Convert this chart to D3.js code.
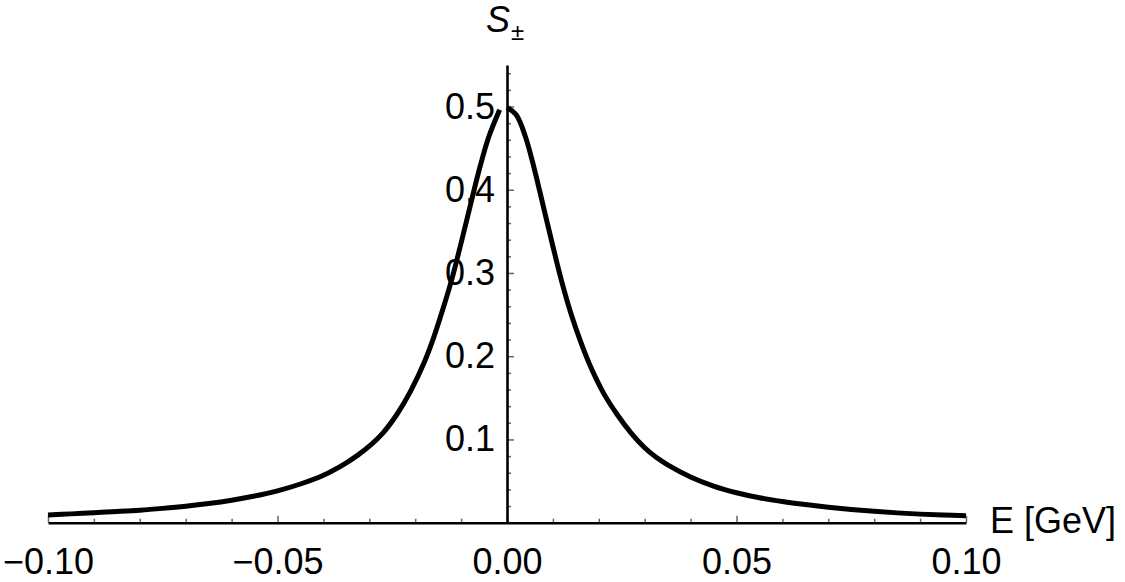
<!DOCTYPE html>
<html>
<head>
<meta charset="utf-8">
<script src="https://cdn.jsdelivr.net/npm/d3@7"></script>
<style>
  html, body { margin: 0; padding: 0; background: #fff; }
  svg { display: block; }
  text { font-family: "Liberation Sans", Arial, Helvetica, sans-serif; fill: #000; }
</style>
</head>
<body>
<svg id="chart" width="1125" height="582"></svg>
<script>
// Curve (E in GeV, S±)
const leftE = [-0.100, -0.095, -0.090, -0.085, -0.080, -0.075, -0.070, -0.065, -0.060, -0.055, -0.050, -0.045, -0.040, -0.035, -0.0325, -0.030, -0.027, -0.024, -0.021, -0.018, -0.016, -0.014, -0.012, -0.010, -0.008, -0.006, -0.004, -0.0016];
const leftS = [0.0092, 0.0106, 0.0120, 0.0134, 0.0150, 0.0172, 0.0198, 0.0230, 0.0270, 0.0320, 0.0383, 0.0465, 0.0570, 0.0720, 0.0812, 0.0920, 0.108, 0.130, 0.158, 0.193, 0.222, 0.256, 0.293, 0.336, 0.381, 0.425, 0.463, 0.496];
const rightE = [0.000, 0.002, 0.004, 0.006, 0.008, 0.010, 0.012, 0.014, 0.016, 0.018, 0.021, 0.024, 0.027, 0.030, 0.0325, 0.035, 0.040, 0.045, 0.050, 0.055, 0.060, 0.065, 0.070, 0.075, 0.080, 0.085, 0.090, 0.095, 0.100];
const rightS = [0.499, 0.490, 0.464, 0.424, 0.378, 0.332, 0.288, 0.250, 0.218, 0.190, 0.156, 0.130, 0.108, 0.090, 0.0785, 0.0695, 0.055, 0.044, 0.036, 0.030, 0.0255, 0.0218, 0.0186, 0.0159, 0.0137, 0.0118, 0.0103, 0.0093, 0.0084];

const xMajor = [-0.10, -0.05, 0.00, 0.05, 0.10];
const xMinor = [-0.09, -0.08, -0.07, -0.06, -0.04, -0.03, -0.02, -0.01, 0.01, 0.02, 0.03, 0.04, 0.06, 0.07, 0.08, 0.09];
const yMajor = [0.1, 0.2, 0.3, 0.4, 0.5];
const yMinor = [0.02, 0.04, 0.06, 0.08, 0.12, 0.14, 0.16, 0.18, 0.22, 0.24, 0.26, 0.28, 0.32, 0.34, 0.36, 0.38, 0.42, 0.44, 0.46, 0.48, 0.52, 0.54];

const xLabel = "E [GeV]";
const yLabelMain = "S";
const yLabelSub = "±";

const svg = d3.select("#chart");
const x = d3.scaleLinear().domain([-0.10, 0.10]).range([48, 966]);
const y0 = 522.7, perUnit = 832.4;
const y = d3.scaleLinear().domain([0, 0.55]).range([y0, y0 - 0.55 * perUnit]);

const tickColor = "#666";
const fontFam = '"Liberation Sans", Arial, Helvetica, sans-serif';

// X axis: minor and major ticks pointing up
const gx = svg.append("g").attr("transform", `translate(0,${y(0)})`);
gx.append("g").call(d3.axisBottom(x).tickValues(xMinor).tickSize(-4).tickFormat(""))
  .call(g => g.select(".domain").remove())
  .call(g => g.selectAll("line").attr("stroke", tickColor).attr("stroke-width", 1.5));
gx.append("g").call(d3.axisBottom(x).tickValues(xMajor).tickSize(-7).tickFormat(""))
  .call(g => g.select(".domain").remove())
  .call(g => g.selectAll("line").attr("stroke", tickColor).attr("stroke-width", 1.5));
gx.append("g").call(d3.axisBottom(x).tickValues(xMajor).tickSizeInner(0).tickSizeOuter(0).tickPadding(26).tickFormat(d3.format(".2f")))
  .call(g => g.select(".domain").attr("stroke", "#000").attr("stroke-width", 2.6))
  .call(g => g.selectAll("text").attr("font-size", 36).attr("fill", "#000").attr("font-family", fontFam));

// Y axis at E = 0
const gy = svg.append("g").attr("transform", `translate(${x(0)},0)`);
gy.append("g").call(d3.axisRight(y).tickValues(yMinor).tickSize(4).tickFormat(""))
  .call(g => g.select(".domain").remove())
  .call(g => g.selectAll("line").attr("stroke", tickColor).attr("stroke-width", 1.5));
gy.append("g").call(d3.axisRight(y).tickValues(yMajor).tickSize(7).tickFormat(""))
  .call(g => g.select(".domain").remove())
  .call(g => g.selectAll("line").attr("stroke", tickColor).attr("stroke-width", 1.5));
gy.append("g").call(d3.axisLeft(y).tickValues(yMajor).tickSizeInner(0).tickSizeOuter(0).tickPadding(12).tickFormat(d3.format(".1f")))
  .call(g => g.select(".domain").attr("stroke", "#000").attr("stroke-width", 2.6))
  .call(g => g.selectAll("text").attr("font-size", 36).attr("fill", "#000").attr("font-family", fontFam));

// Curve
const line = d3.line().x(d => x(d[0])).y(d => y(d[1])).curve(d3.curveCatmullRom.alpha(0.5));
const leftData = leftE.map((e, i) => [e, leftS[i]]);
const rightData = rightE.map((e, i) => [e, rightS[i]]);
[leftData, rightData].forEach(dat => {
  svg.append("path").datum(dat).attr("d", line)
    .attr("fill", "none").attr("stroke", "#000").attr("stroke-width", 5)
    .attr("stroke-linejoin", "round");
});

// Axis labels
svg.append("text").attr("x", 990).attr("y", 533).attr("font-size", 36).text(xLabel);
const t = svg.append("text").attr("x", 486).attr("y", 32).attr("font-size", 36);
t.append("tspan").attr("font-style", "italic").text(yLabelMain);
t.append("tspan").attr("font-size", 24).attr("dy", 8).attr("dx", 1).text(yLabelSub);
</script>
</body>
</html>
